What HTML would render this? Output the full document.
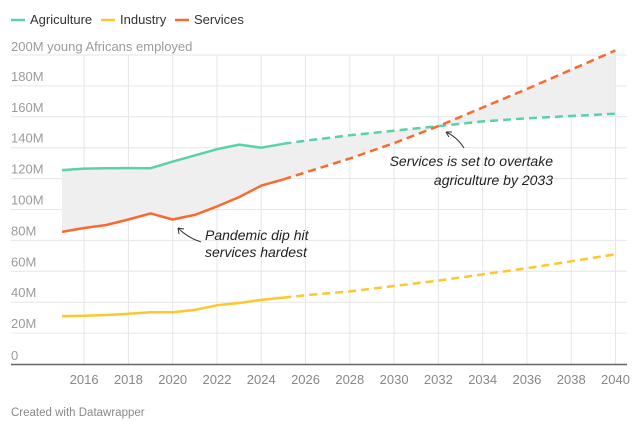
<!DOCTYPE html>
<html><head><meta charset="utf-8"><style>
html,body{margin:0;padding:0;background:#fff;width:640px;height:430px;overflow:hidden}
svg{display:block;font-family:"Liberation Sans",sans-serif}
</style></head><body>
<svg id="c" width="640" height="430" xmlns="http://www.w3.org/2000/svg"></svg>
<script>
const X=y=>62+(y-2015)*22.14, Y=v=>364-v*1.545;
const ag=[[2015,125.5],[2016,126.5],[2017,126.7],[2018,126.8],[2019,126.7],[2020,131],[2021,135],[2022,139],[2023,142],[2024,140],[2025,142.5],[2026,144.5],[2028,148],[2030,151],[2032,154],[2034,157],[2036,159],[2038,160.5],[2040,162]];
const sv=[[2015,85.5],[2016,88],[2017,90],[2018,93.5],[2019,97.5],[2020,93.5],[2021,96.5],[2022,102],[2023,108],[2024,115.5],[2025,119.5],[2026,124],[2028,133],[2030,143],[2032,154],[2034,166],[2036,178],[2038,190.5],[2040,203]];
const ind=[[2015,31],[2016,31.2],[2017,31.7],[2018,32.5],[2019,33.5],[2020,33.5],[2021,35],[2022,38],[2023,39.5],[2024,41.5],[2025,43],[2026,44.5],[2028,47],[2030,50.5],[2032,54],[2034,58],[2036,62],[2038,66.5],[2040,71]];
const pts=a=>a.map(p=>X(p[0]).toFixed(1)+','+Y(p[1]).toFixed(1)).join(' ');
let s='';
for(let v=20;v<=200;v+=20)s+=`<line x1="11" x2="627" y1="${Y(v)}" y2="${Y(v)}" stroke="#e6e6e6"/>`;
for(let y=2016;y<=2040;y+=2)s+=`<line x1="${X(y)}" x2="${X(y)}" y1="${Y(200)}" y2="364" stroke="#e6e6e6"/>`;
s+=`<polygon points="${pts(ag)} ${pts(sv.slice().reverse())}" fill="#efefef"/>`;
const line=(a,c)=>{const i=a.findIndex(p=>p[0]==2025);
 s+=`<polyline points="${pts(a.slice(0,i+1))}" fill="none" stroke="${c}" stroke-width="2.5" stroke-linejoin="round"/>`;
 s+=`<polyline points="${pts(a.slice(i))}" fill="none" stroke="${c}" stroke-width="2.5" stroke-dasharray="8,5"/>`;};
line(ag,'#5ad1a9');line(ind,'#fdc72e');line(sv,'#fa6a2e');
s+=`<line x1="11" x2="627" y1="364.5" y2="364.5" stroke="#666" stroke-width="1.5"/>`;
for(let v=20;v<=180;v+=20)s+=`<text x="11" y="${Y(v)-5}" font-size="13" fill="#9b9b9b">${v}M</text>`;
s+=`<text x="11" y="360" font-size="13" fill="#9b9b9b">0</text>`;
s+=`<text x="11" y="51" font-size="13" fill="#9b9b9b">200M young Africans employed</text>`;
for(let y=2016;y<=2040;y+=2)s+=`<text x="${X(y)}" y="384" font-size="13" fill="#888" text-anchor="middle">${y}</text>`;
s+=`<line x1="11" x2="25" y1="20" y2="20" stroke="#5ad1a9" stroke-width="2.5"/><text x="30" y="24" font-size="13" fill="#333">Agriculture</text>`;
s+=`<line x1="101" x2="115" y1="20" y2="20" stroke="#fdc72e" stroke-width="2.5"/><text x="120" y="24" font-size="13" fill="#333">Industry</text>`;
s+=`<line x1="175" x2="189" y1="20" y2="20" stroke="#fa6a2e" stroke-width="2.5"/><text x="194" y="24" font-size="13" fill="#333">Services</text>`;
s+=`<text x="205" y="240" font-size="14" font-style="italic" fill="#222">Pandemic dip hit</text><text x="205" y="257" font-size="14" font-style="italic" fill="#222">services hardest</text>`;
s+=`<path d="M201,242 Q188,238 178,228" fill="none" stroke="#333" stroke-width="1"/><path d="M178,228 l6,1 M178,228 l1,6" stroke="#333" stroke-width="1"/>`;
s+=`<text x="553" y="166" font-size="14" font-style="italic" fill="#222" text-anchor="end">Services is set to overtake</text><text x="553" y="185" font-size="14" font-style="italic" fill="#222" text-anchor="end">agriculture by 2033</text>`;
s+=`<path d="M464,148 Q457,137 446,132" fill="none" stroke="#333" stroke-width="1"/><path d="M446,132 l6,0 M446,132 l3,5" stroke="#333" stroke-width="1"/>`;
s+=`<text x="11" y="416" font-size="11.5" fill="#888">Created with Datawrapper</text>`;
document.getElementById('c').innerHTML=s;
</script>
</body></html>
